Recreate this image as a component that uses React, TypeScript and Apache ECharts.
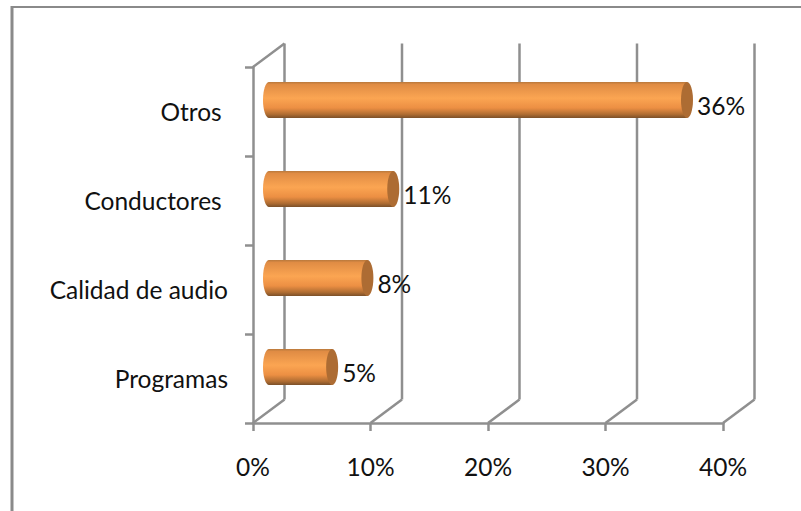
import React, { useEffect, useRef } from "react";
import * as echarts from "echarts";

const categories = ["Programas", "Calidad de audio", "Conductores ", "Otros "];
const barValues = [5.8, 8.8, 11, 36];
const barLabels = ["5%", "8%", "11%", "36%"];
const xTicks = [0, 10, 20, 30, 40];

const FONT = "Lato, Carlito, Calibri, sans-serif";
const GRID = "#8f8f8f";
const DEPTH_X = 31.5;
const DEPTH_Y = 23.5;
const FONT_SIZE = 24.5;

export default function App() {
  const ref = useRef<HTMLDivElement>(null);
  useEffect(() => {
    const chart = echarts.init(ref.current!, undefined, { renderer: "svg" });
    const lineStyle = { stroke: GRID, lineWidth: 2.5, fill: "none" };
    chart.setOption({
      animation: false,
      backgroundColor: "#ffffff",
      graphic: [
        { type: "line", shape: { x1: 12, y1: 7, x2: 801, y2: 7 }, style: { stroke: "#8a8a8a", lineWidth: 2 } },
        { type: "line", shape: { x1: 12, y1: 6, x2: 12, y2: 511 }, style: { stroke: "#8a8a8a", lineWidth: 3 } },
      ],
      grid: { left: 253, top: 67, width: 470, height: 356 },
      xAxis: {
        type: "value",
        min: 0,
        max: 40,
        interval: 10,
        splitLine: { show: false },
        axisLine: { show: true, lineStyle: { color: GRID, width: 2.5 } },
        axisTick: { show: true, length: 8, lineStyle: { color: GRID, width: 2.5 } },
        axisLabel: { formatter: "{value}%", fontFamily: FONT, fontSize: FONT_SIZE, color: "#111", margin: 31 },
      },
      yAxis: {
        type: "category",
        data: categories,
        axisLine: { show: true, lineStyle: { color: GRID, width: 2.5 } },
        axisTick: { show: true, length: 8, lineStyle: { color: GRID, width: 2.5 } },
        axisLabel: { fontFamily: FONT, fontSize: FONT_SIZE, color: "#111", margin: 25 },
      },
      series: [
        {
          type: "custom",
          coordinateSystem: "cartesian2d",
          data: xTicks.map((t) => [t, 0]),
          silent: true,
          z: 1,
          renderItem: (_p: any, api: any) => {
            const v = api.value(0);
            const base = api.coord([v, 0]);
            const x = base[0];
            const bottom = 423;
            const top = 67;
            const children: any[] = [
              { type: "line", shape: { x1: x, y1: bottom, x2: x + DEPTH_X, y2: bottom - DEPTH_Y }, style: lineStyle },
              { type: "line", shape: { x1: x + DEPTH_X, y1: bottom - DEPTH_Y, x2: x + DEPTH_X, y2: top - DEPTH_Y }, style: lineStyle },
            ];
            if (v === 0) {
              children.push({ type: "line", shape: { x1: x, y1: top, x2: x + DEPTH_X, y2: top - DEPTH_Y }, style: lineStyle });
            }
            return { type: "group", children };
          },
        },
        {
          type: "custom",
          coordinateSystem: "cartesian2d",
          data: barValues.map((v, i) => [v, i, barLabels[i]]),
          encode: { x: 0, y: 1 },
          silent: true,
          z: 2,
          renderItem: (_p: any, api: any) => {
            const i = api.value(1);
            const start = api.coord([0, i]);
            const end = api.coord([api.value(0), i]);
            const cy = start[1] - 11.5;
            const h = 36;
            const rx = 6;
            const left = start[0] + 10;
            const right = end[0] + 17;
            const body = () =>
              new echarts.graphic.LinearGradient(0, 0, 0, 1, [
                { offset: 0, color: "#b9793c" },
                { offset: 0.07, color: "#e08c44" },
                { offset: 0.45, color: "#fba552" },
                { offset: 0.72, color: "#ec8f43" },
                { offset: 0.9, color: "#ae6c32" },
                { offset: 1, color: "#7b5029" },
              ]);
            return {
              type: "group",
              children: [
                {
                  type: "ellipse",
                  shape: { cx: left + rx, cy, rx, ry: h / 2 },
                  style: { fill: body() },
                },
                {
                  type: "rect",
                  shape: { x: left + rx, y: cy - h / 2, width: right - left - 2 * rx, height: h },
                  style: { fill: body() },
                },
                {
                  type: "ellipse",
                  shape: { cx: right - rx, cy, rx, ry: h / 2 },
                  style: { fill: "#ad6c33" },
                },
                {
                  type: "text",
                  style: {
                    x: right + 4,
                    y: cy + 5.5,
                    text: api.value(2),
                    fontFamily: FONT,
                    fontSize: FONT_SIZE,
                    fill: "#111",
                    align: "left",
                    verticalAlign: "middle",
                  },
                },
              ],
            };
          },
        },
      ],
    });
    return () => chart.dispose();
  }, []);
  return <div ref={ref} style={{ position: "fixed", left: 0, top: 0, width: 801, height: 511 }} />;
}
